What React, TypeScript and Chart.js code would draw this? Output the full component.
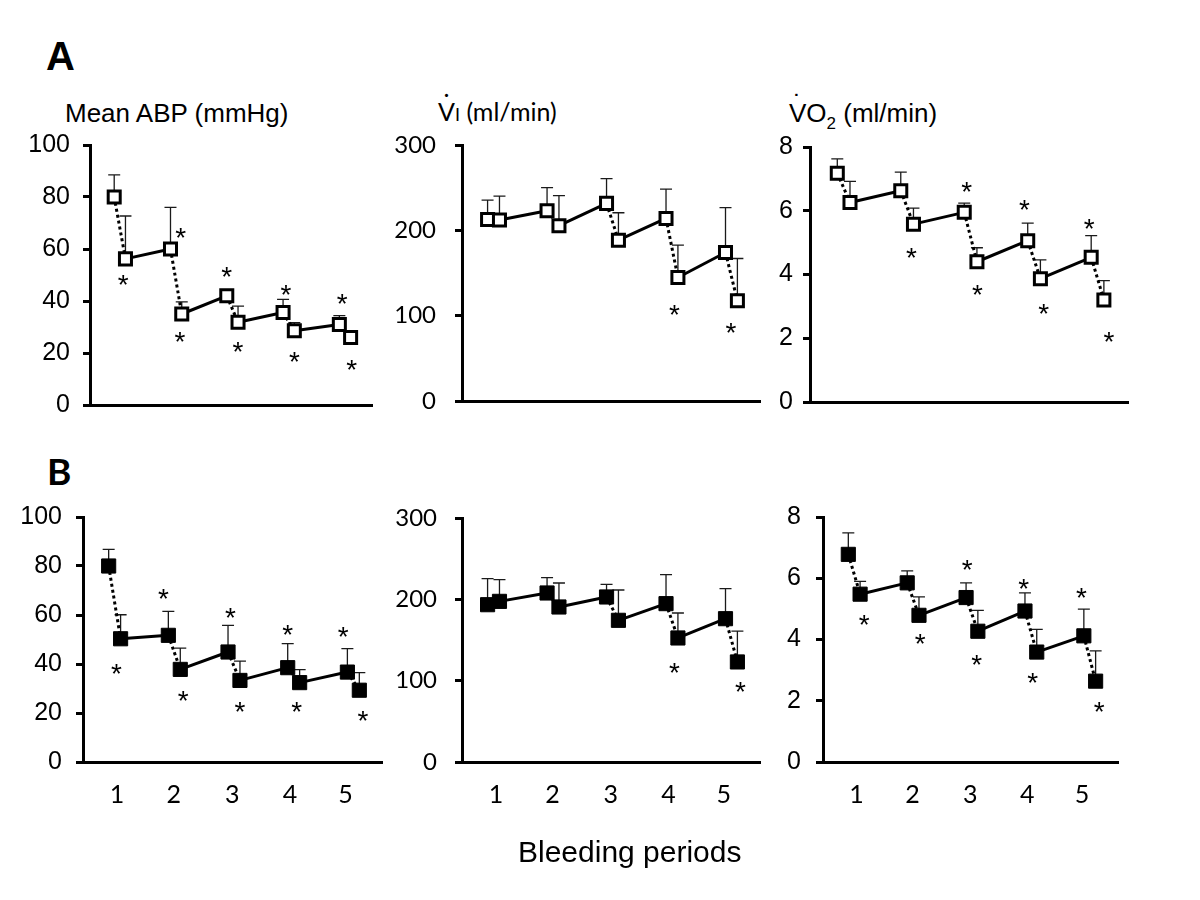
import React, { useEffect, useRef } from 'react';
import { Chart, registerables } from 'chart.js';

Chart.register(...registerables);

// Bleeding periods: each has a value before (a) and after (b) the bleed
const PERIODS = [1, 2, 3, 4, 5];
const X_TICK_LABELS = ['1', '2', '3', '4', '5'];
const X_TICK_VALUES = [1.04, 1.99, 2.97, 3.94, 4.87];

// Group A (open squares)
const A_ABP = [80, 56.2, 60, 35, 42, 31.8, 35.6, 28.6, 31, 26];
const A_ABP_SD = [8.5, 16.5, 16, 4.7, 1.5, 6.2, 5, 3.1, 3.4, 1.5];
const A_ABP_STARS = [[1.06, 48], [2.08, 66], [2.07, 26.3], [2.9, 51.3], [3.1, 22.4], [3.95, 44.2], [4.1, 18.6], [4.95, 40.6], [5.12, 15.4]];

const A_VI = [212.8, 212, 223, 205.4, 231.6, 188.5, 214, 144.7, 174, 117.4];
const A_VI_SD = [22.7, 28.2, 27, 35.2, 28.9, 32.1, 34.4, 38, 52.5, 49.6];
const A_VI_STARS = [[4.04, 106.4], [4.99, 85]];

const A_VO2 = [7.18, 6.26, 6.63, 5.58, 5.95, 4.4, 5.06, 3.87, 4.54, 3.2];
const A_VO2_SD = [0.45, 0.66, 0.58, 0.5, 0.29, 0.44, 0.55, 0.59, 0.68, 0.61];
const A_VO2_STARS = [[2.07, 4.69], [2.94, 6.76], [3.11, 3.51], [3.85, 6.17], [4.15, 2.92], [4.87, 5.58], [5.18, 2.03]];

// Group B (filled squares)
const B_ABP = [80, 50.3, 51.7, 37.8, 44.9, 33.3, 38.5, 32.4, 36.7, 29.3];
const B_ABP_SD = [6.8, 9.8, 9.8, 8.7, 10.9, 7.9, 9.8, 5.3, 9.6, 7.2];
const B_ABP_STARS = [[1.03, 38.1], [1.82, 68.7], [2.15, 26.8], [2.94, 61], [3.1, 22.4], [3.9, 53.7], [4.05, 22.4], [4.83, 53.1], [5.16, 18.8]];

const B_VI = [193.4, 197.5, 207.8, 190.6, 202.9, 174.2, 194.7, 152.5, 176.2, 123];
const B_VI_SD = [32, 26.7, 18.8, 29.5, 15.5, 37.3, 35.6, 30.7, 36.9, 38];
const B_VI_STARS = [[4.04, 115.6], [5.15, 92.2]];

const B_VO2 = [6.78, 5.48, 5.85, 4.79, 5.37, 4.27, 4.93, 3.59, 4.12, 2.64];
const B_VO2_SD = [0.7, 0.42, 0.39, 0.6, 0.48, 0.68, 0.59, 0.74, 0.87, 0.99];
const B_VO2_STARS = [[1.17, 4.63], [2.12, 4.01], [2.92, 6.42], [3.08, 3.34], [3.88, 5.8], [4.03, 2.74], [4.86, 5.52], [5.16, 1.8]];

const ARIAL = '"Liberation Sans", Arial, sans-serif';
const CALIBRI = 'Lato, "Open Sans", sans-serif';

const POINT_X = PERIODS.flatMap((p) => [p - 0.1, p + 0.1]);

type PanelProps = {
  mean: number[];
  sd: number[];
  stars: number[][];
  yMax: number;
  yStep: number;
  filled: boolean;
  showX: boolean;
  l: number;
  r: number;
  t: number;
  b: number;
  tickFamily: string;
  tickSize: number;
  tickPad: number;
};

function Panel(p: PanelProps) {
  const ref = useRef<HTMLCanvasElement>(null);
  const YW = 80;
  const PT = 45;
  const PR = 12;
  const XH = p.showX ? 62 : 45;
  const W = YW + (p.r - p.l) + PR;
  const H = PT + (p.b - p.t) + XH;

  useEffect(() => {
    const errorBars = {
      id: 'errorBars',
      beforeDatasetsDraw(chart: any) {
        const { ctx, scales } = chart;
        const xs = scales.x;
        const ys = scales.y;
        ctx.save();
        ctx.strokeStyle = '#1a1a1a';
        ctx.lineWidth = 1.3;
        p.mean.forEach((m, i) => {
          const px = xs.getPixelForValue(POINT_X[i]);
          const py = ys.getPixelForValue(m);
          const pe = ys.getPixelForValue(m + p.sd[i]);
          ctx.beginPath();
          ctx.moveTo(px, py);
          ctx.lineTo(px, pe);
          ctx.moveTo(px - 6, pe);
          ctx.lineTo(px + 6, pe);
          ctx.stroke();
        });
        ctx.restore();
      },
    };
    const starMarks = {
      id: 'starMarks',
      afterDatasetsDraw(chart: any) {
        const { ctx, scales } = chart;
        ctx.save();
        ctx.fillStyle = '#000';
        ctx.font = `28px ${ARIAL}`;
        ctx.textAlign = 'center';
        ctx.textBaseline = 'alphabetic';
        const m = ctx.measureText('*');
        const off = (m.actualBoundingBoxDescent - m.actualBoundingBoxAscent) / 2;
        p.stars.forEach(([sx, sy]) => {
          const px = scales.x.getPixelForValue(sx);
          const py = scales.y.getPixelForValue(sy);
          ctx.fillText('*', px, py - off);
        });
        ctx.restore();
      },
    };
    const chart = new Chart(ref.current as HTMLCanvasElement, {
      type: 'line',
      data: {
        datasets: [
          {
            data: POINT_X.map((x, i) => ({ x, y: p.mean[i] })),
            borderColor: '#000',
            borderWidth: 3,
            pointStyle: 'rect',
            pointRadius: p.filled ? 10 : 8.5,
            pointBorderWidth: p.filled ? 1 : 3,
            pointBackgroundColor: p.filled ? '#000' : '#fff',
            pointBorderColor: '#000',
            tension: 0,
            fill: false,
            clip: false as any,
            segment: {
              borderDash: (c: any) => (c.p0DataIndex % 2 === 0 ? [3, 3] : []),
            },
          } as any,
        ],
      },
      options: {
        responsive: false,
        animation: false,
        events: [],
        layout: { padding: { top: PT, right: PR, left: 0, bottom: 0 } },
        plugins: { legend: { display: false }, tooltip: { enabled: false } },
        scales: {
          x: {
            type: 'linear',
            min: 0.47,
            max: 5.48,
            afterBuildTicks: (s: any) => {
              s.ticks = X_TICK_VALUES.map((v) => ({ value: v }));
            },
            afterFit: (s: any) => {
              s.height = XH;
            },
            grid: { display: false, drawTicks: false },
            border: { display: true, color: '#000', width: 3 },
            ticks: {
              display: p.showX,
              autoSkip: false,
              maxRotation: 0,
              padding: 18,
              color: '#000',
              font: { family: CALIBRI, size: 25 },
              callback: (_v: any, i: number) => X_TICK_LABELS[i],
            },
          },
          y: {
            min: 0,
            max: p.yMax,
            afterFit: (s: any) => {
              s.width = YW;
            },
            ticks: {
              stepSize: p.yStep,
              padding: p.tickPad,
              color: '#000',
              font: { family: p.tickFamily, size: p.tickSize },
            },
            grid: {
              display: true,
              drawOnChartArea: false,
              drawTicks: true,
              tickLength: 7,
              tickWidth: 3,
              tickColor: '#000',
            },
            border: { display: true, color: '#000', width: 3 },
          },
        },
      } as any,
      plugins: [errorBars, starMarks],
    });
    return () => chart.destroy();
  }, []);

  return (
    <canvas
      ref={ref}
      width={W}
      height={H}
      style={{ position: 'absolute', left: p.l - YW, top: p.t - PT, width: W, height: H }}
    />
  );
}

function Text(props: { left: number; top: number; size: number; family: string; bold?: boolean; children: React.ReactNode }) {
  return (
    <div
      style={{
        position: 'absolute',
        left: props.left,
        top: props.top,
        fontSize: props.size,
        lineHeight: `${props.size}px`,
        fontFamily: props.family,
        fontWeight: props.bold ? 'bold' : 'normal',
        whiteSpace: 'nowrap',
        color: '#000',
      }}
    >
      {props.children}
    </div>
  );
}

function DotV() {
  return (
    <span style={{ position: 'relative', display: 'inline-block' }}>
      V
      <span style={{ position: 'absolute', left: '50%', top: -9, transform: 'translateX(-50%)' }}>˙</span>
    </span>
  );
}

export default function App() {
  return (
    <div style={{ position: 'absolute', left: 0, top: 0, width: 1200, height: 900, background: '#fff', overflow: 'hidden' }}>
      <Text left={46} top={36} size={40} family={ARIAL} bold>A</Text>
      <Text left={47} top={452} size={37} family={CALIBRI} bold>B</Text>

      <Text left={65} top={100} size={26} family={ARIAL}>Mean ABP (mmHg)</Text>
      <Text left={438} top={99} size={25} family={CALIBRI}>
        <DotV />
        <span style={{ fontSize: 18 }}>I</span> (ml/min)
      </Text>
      <Text left={789} top={100} size={26} family={ARIAL}>
        <DotV />O<span style={{ fontSize: 17, position: 'relative', top: 7 }}>2</span> (ml/min)
      </Text>

      <Panel mean={A_ABP} sd={A_ABP_SD} stars={A_ABP_STARS} yMax={100} yStep={20} filled={false} showX={false} l={90} r={372} t={145} b={405} tickFamily={ARIAL} tickSize={25} tickPad={13} />
      <Panel mean={A_VI} sd={A_VI_SD} stars={A_VI_STARS} yMax={300} yStep={100} filled={false} showX={false} l={462} r={760} t={145} b={401} tickFamily={CALIBRI} tickSize={24} tickPad={19} />
      <Panel mean={A_VO2} sd={A_VO2_SD} stars={A_VO2_STARS} yMax={8} yStep={2} filled={false} showX={false} l={810} r={1128} t={147} b={402} tickFamily={ARIAL} tickSize={25} tickPad={10} />

      <Panel mean={B_ABP} sd={B_ABP_SD} stars={B_ABP_STARS} yMax={100} yStep={20} filled={true} showX={true} l={83} r={382} t={517} b={762} tickFamily={ARIAL} tickSize={25} tickPad={14} />
      <Panel mean={B_VI} sd={B_VI_SD} stars={B_VI_STARS} yMax={300} yStep={100} filled={true} showX={true} l={462} r={760} t={518} b={762} tickFamily={CALIBRI} tickSize={24} tickPad={18} />
      <Panel mean={B_VO2} sd={B_VO2_SD} stars={B_VO2_STARS} yMax={8} yStep={2} filled={true} showX={true} l={823} r={1118} t={517} b={762} tickFamily={ARIAL} tickSize={25} tickPad={15} />

      <Text left={518} top={837} size={30} family={ARIAL}>Bleeding periods</Text>
    </div>
  );
}
